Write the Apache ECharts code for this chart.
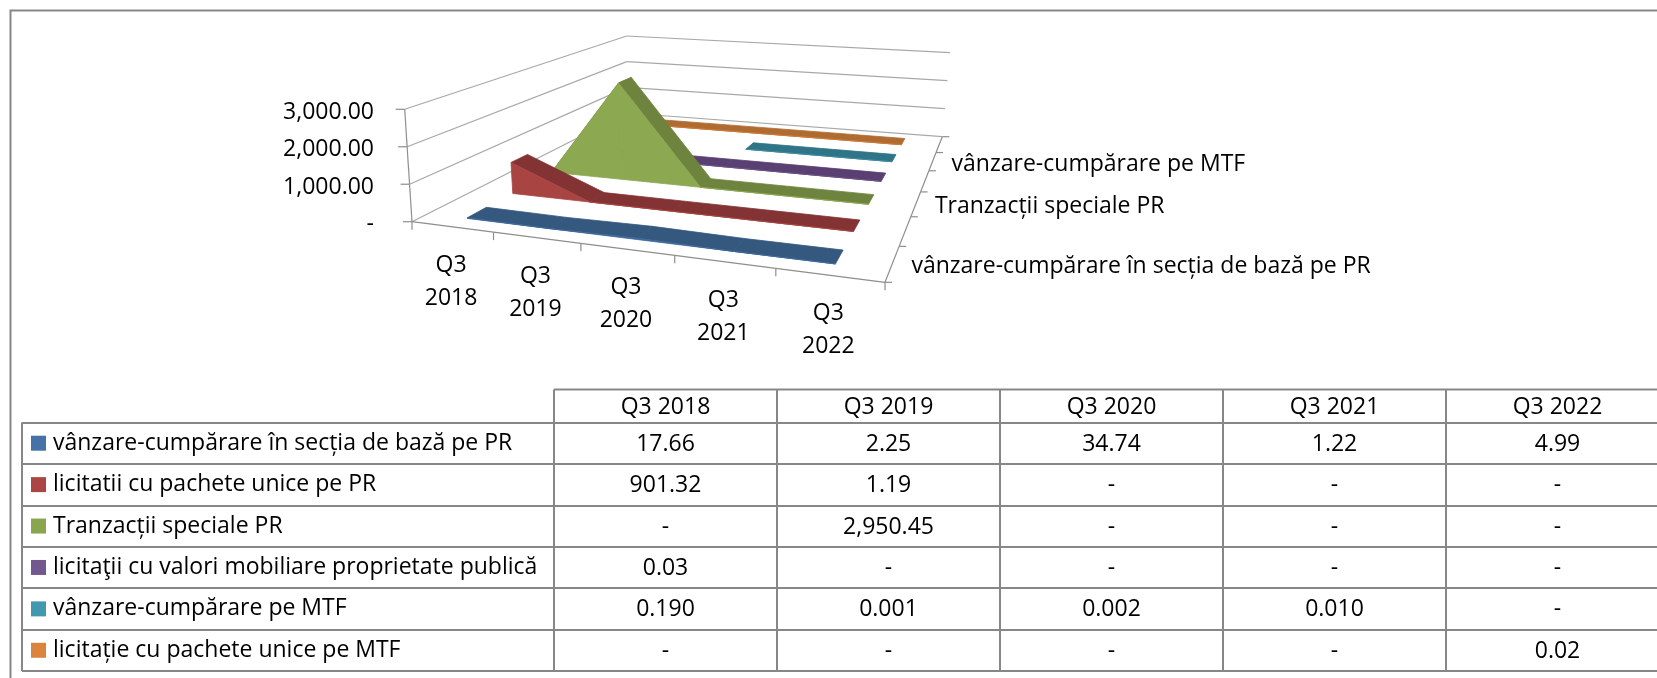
<!DOCTYPE html>
<html>
<head>
<meta charset="utf-8">
<style>html,body{margin:0;padding:0;background:#fff;overflow:hidden}#c{width:1657px;height:678px}</style>
<script src="https://cdn.jsdelivr.net/npm/echarts@6/dist/echarts.min.js"></script>
</head>
<body>
<div id="c"></div>
<script>
const quarters = ['Q3 2018', 'Q3 2019', 'Q3 2020', 'Q3 2021', 'Q3 2022'];
const seriesNames = [
  'vânzare-cumpărare în secția de bază pe PR',
  'licitatii cu pachete unice pe PR',
  'Tranzacții speciale PR',
  'licitaţii cu valori mobiliare proprietate publică',
  'vânzare-cumpărare pe MTF',
  'licitație cu pachete unice pe MTF'
];
const row1 = ['17.66', '2.25', '34.74', '1.22', '4.99'];
const row2 = ['901.32', '1.19', '-', '-', '-'];
const row3 = ['-', '2,950.45', '-', '-', '-'];
const row4 = ['0.03', '-', '-', '-', '-'];
const row5 = ['0.190', '0.001', '0.002', '0.010', '-'];
const row6 = ['-', '-', '-', '-', '0.02'];
const tableRows = [row1, row2, row3, row4, row5, row6];
// the picture only draws the MTF ribbon from its third quarter on
const firstDrawnQuarter = [0, 0, 0, 0, 2, 0];
const valueTicks = [0, 1000, 2000, 3000];
const valueTickLabels = ['-', '1,000.00', '2,000.00', '3,000.00'];
const depthLabelRows = [0, 2, 4];

const keyColors = ['#4572A7', '#AA4643', '#89A54E', '#71588F', '#4198AF', '#DB843D'];
const frontColors = ['#3F6A9C', '#A84442', '#8CA850', '#6A5086', '#3C8CA2', '#CC7A38'];
const topColors = ['#35587F', '#833333', '#6E833D', '#5A3F73', '#2F7487', '#B06C30'];

const FONT = '"Open Sans"';
const FS = 23;
const GRID3D = '#A8A8A8', AXIS3D = '#8E8E8E', TABLE = '#878787';

function makeHomography(q) {
  const [p0, p1, p2, p3] = q;
  const dx1 = p1[0] - p2[0], dx2 = p3[0] - p2[0], sx = p0[0] - p1[0] + p2[0] - p3[0];
  const dy1 = p1[1] - p2[1], dy2 = p3[1] - p2[1], sy = p0[1] - p1[1] + p2[1] - p3[1];
  const den = dx1 * dy2 - dx2 * dy1;
  const g = (sx * dy2 - dx2 * sy) / den, h = (dx1 * sy - sx * dy1) / den;
  const a = p1[0] - p0[0] + g * p1[0], b = p3[0] - p0[0] + h * p3[0];
  const d = p1[1] - p0[1] + g * p1[1], e = p3[1] - p0[1] + h * p3[1];
  return (u, v) => {
    const w = g * u + h * v + 1;
    return [(a * u + b * v + p0[0]) / w, (d * u + e * v + p0[1]) / w];
  };
}
const floorMap = makeHomography([[412, 221.7], [885, 282.3], [942.3, 136.7], [627, 113]]);
const roofMap = makeHomography([[404.7, 109.3], [895, 162], [950, 52.7], [626.7, 36]]);
function project3D(u, v, t) {
  const a = floorMap(u, v), b = roofMap(u, v);
  return [a[0] + (b[0] - a[0]) * t, a[1] + (b[1] - a[1]) * t];
}
function coordTo3D(api, params, q, val, v) {
  const cs = params.coordSys;
  const p = api.coord([q, val]);
  return project3D((p[0] - cs.x) / cs.width, v, 1 - (p[1] - cs.y) / cs.height);
}
const nQ = quarters.length, nS = seriesNames.length;
const num = s => s === '-' ? 0 : Number(s.replace(/,/g, ''));
const RIBBON = 0.40;

function ribbonSeries(si) {
  const vals = tableRows[si].map(num);
  const data = [];
  for (let i = firstDrawnQuarter[si]; i < nQ - 1; i++) data.push([i + 0.5, vals[i], i + 1.5, vals[i + 1]]);
  const vFront = (si + 0.5 - RIBBON / 2) / nS, vBack = (si + 0.5 + RIBBON / 2) / nS;
  return {
    type: 'custom', name: seriesNames[si], xAxisIndex: 0, yAxisIndex: 0, z: 10 + (nS - si), clip: false, silent: true,
    data: data,
    renderItem(params, api) {
      const x0 = api.value(0), y0 = api.value(1), x1 = api.value(2), y1 = api.value(3);
      const f0 = coordTo3D(api, params, x0, y0, vFront), f1 = coordTo3D(api, params, x1, y1, vFront);
      const b0 = coordTo3D(api, params, x0, y0, vBack), b1 = coordTo3D(api, params, x1, y1, vBack);
      const g0 = coordTo3D(api, params, x0, 0, vFront), g1 = coordTo3D(api, params, x1, 0, vFront);
      return { type: 'group', children: [
        { type: 'polygon', shape: { points: [f0, f1, b1, b0] }, style: { fill: topColors[si], stroke: topColors[si], lineWidth: 0.8 } },
        { type: 'polygon', shape: { points: [g0, g1, f1, f0] }, style: { fill: frontColors[si], stroke: frontColors[si], lineWidth: 0.8 } }
      ] };
    }
  };
}
function line(a, b, color, w) {
  return { type: 'line', shape: { x1: a[0], y1: a[1], x2: b[0], y2: b[1] }, style: { stroke: color, lineWidth: w } };
}
function txt(x, y, text, align, extra) {
  return { type: 'text', x: x, y: y, style: Object.assign({ text: text, fill: '#000', font: FS + 'px ' + FONT, textAlign: align, textVerticalAlign: 'middle' }, extra || {}) };
}
const wallSeries = {
  type: 'custom', xAxisIndex: 0, yAxisIndex: 0, z: 2, silent: true, clip: false,
  data: valueTicks.map((t, i) => [0, t, i]),
  renderItem(params, api) {
    const val = api.value(1), idx = api.value(2);
    const fl = coordTo3D(api, params, 0, val, 0), bl = coordTo3D(api, params, 0, val, 1), br = coordTo3D(api, params, nQ, val, 1);
    const out = [line(fl, bl, GRID3D, 1.2), line(bl, br, GRID3D, 1.2),
      line([fl[0] - 9, fl[1]], fl, AXIS3D, 1.2),
      txt(374, fl[1] + 3, valueTickLabels[idx], 'right')];
    if (idx < valueTicks.length - 1) {
      const nextFl = coordTo3D(api, params, 0, valueTicks[idx + 1], 0);
      out.push(line(fl, nextFl, AXIS3D, 1.2));
    }
    return { type: 'group', children: out };
  }
};
const frontAxisSeries = {
  type: 'custom', xAxisIndex: 0, yAxisIndex: 0, z: 3, silent: true, clip: false,
  data: Array.from({ length: nQ + 1 }, (_, i) => [i]),
  renderItem(params, api) {
    const i = api.value(0);
    const p = coordTo3D(api, params, i, 0, 0);
    const out = [line(p, [p[0], p[1] + 8], AXIS3D, 1.2)];
    if (i < nQ) {
      out.push(line(p, coordTo3D(api, params, i + 1, 0, 0), AXIS3D, 1.2));
      const c = coordTo3D(api, params, i + 0.5, 0, 0);
      out.push(txt(c[0] - 1, c[1] + 55, quarters[i].replace(' ', '\n'), 'center', { lineHeight: 33 }));
    }
    return { type: 'group', children: out };
  }
};
const depthAxisSeries = {
  type: 'custom', xAxisIndex: 0, yAxisIndex: 0, z: 3, silent: true, clip: false,
  data: Array.from({ length: nS + 1 }, (_, i) => [i]),
  renderItem(params, api) {
    const i = api.value(0);
    const p = coordTo3D(api, params, nQ, 0, i / nS);
    const out = [line(p, [p[0] + 7, p[1]], AXIS3D, 1.2)];
    if (i < nS) {
      out.push(line(p, coordTo3D(api, params, nQ, 0, (i + 1) / nS), AXIS3D, 1.2));
      if (depthLabelRows.indexOf(i) >= 0) {
        const c = coordTo3D(api, params, nQ, 0, (i + 0.5) / nS);
        out.push(txt(c[0] + 19, c[1] + 3, seriesNames[i], 'left'));
      }
    }
    return { type: 'group', children: out };
  }
};
const cellData = [];
tableRows.forEach((r, ri) => r.forEach((s, ci) => cellData.push([ci, ri, s])));
const cellSeries = {
  type: 'custom', xAxisIndex: 1, yAxisIndex: 1, z: 5, silent: true, clip: false,
  data: cellData,
  encode: { x: 0, y: 1 },
  renderItem(params, api) {
    const p = api.coord([api.value(0), api.value(1)]);
    return txt(p[0], p[1] + 1, tableRows[api.value(1)][api.value(0)], 'center');
  }
};

const rich = { t: { fontFamily: 'Open Sans', fontSize: FS, color: '#000', padding: [0, 0, 0, 7] } };
keyColors.forEach((c, i) => { rich['k' + i] = { backgroundColor: c, width: 15, height: 15 }; });

const option = {
  animation: false,
  backgroundColor: '#fff',
  textStyle: { fontFamily: 'Open Sans' },
  grid: [
    { left: 0, top: 0, width: 500, height: 300, show: false },
    { left: 554, top: 422.5, width: 1115, height: 248.5, show: false, outerBoundsMode: 'none' }
  ],
  xAxis: [
    { gridIndex: 0, type: 'value', min: 0, max: nQ, show: false },
    { gridIndex: 1, type: 'category', position: 'top', data: quarters,
      axisLine: { show: true, lineStyle: { color: TABLE, width: 2 } },
      axisTick: { show: true, length: 33, lineStyle: { color: TABLE, width: 2 } },
      splitLine: { show: true, lineStyle: { color: TABLE, width: 2 } },
      axisLabel: { interval: 0, margin: 4, fontFamily: 'Open Sans', fontSize: FS, color: '#000' } }
  ],
  yAxis: [
    { gridIndex: 0, type: 'value', min: 0, max: 3000, interval: 1000, show: false },
    { gridIndex: 1, type: 'category', inverse: true, data: seriesNames,
      axisLine: { show: true, lineStyle: { color: TABLE, width: 2 } },
      axisTick: { show: true, length: 532, lineStyle: { color: TABLE, width: 2 } },
      splitLine: { show: true, lineStyle: { color: TABLE, width: 2 } },
      axisLabel: { interval: 0, margin: 523, align: 'left', rich: rich,
        formatter: (name, i) => '{k' + i + '|}{t|' + name + '}' } }
  ],
  graphic: [
    { type: 'polyline', silent: true, shape: { points: [[10.5, 700], [10.5, 10.5], [1700, 10.5]] }, style: { stroke: TABLE, lineWidth: 2, fill: null } },
    { type: 'line', silent: true, shape: { x1: 22, y1: 422.5, x2: 22, y2: 671 }, style: { stroke: TABLE, lineWidth: 2 } },
    { type: 'line', silent: true, shape: { x1: 554, y1: 389.5, x2: 1700, y2: 389.5 }, style: { stroke: TABLE, lineWidth: 2 } }
  ],
  series: [wallSeries, frontAxisSeries, depthAxisSeries, cellSeries]
    .concat(seriesNames.map((_, i) => ribbonSeries(i)))
};
const chart = echarts.init(document.getElementById('c'), null, { renderer: 'canvas' });
chart.setOption(option);
</script>
</body>
</html>
